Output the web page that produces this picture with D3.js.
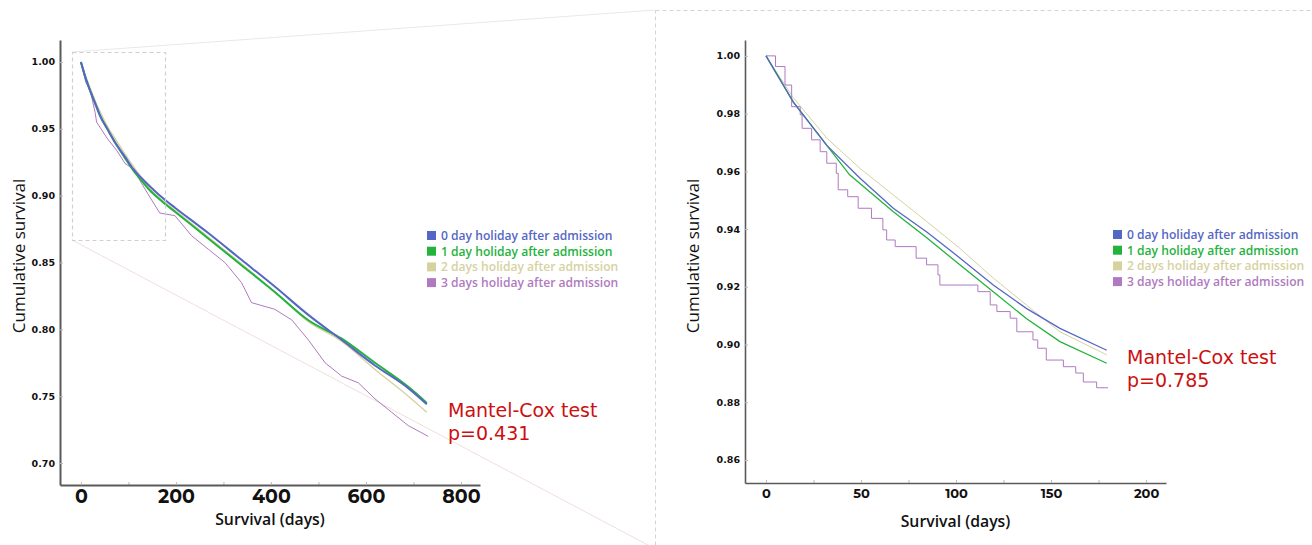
<!DOCTYPE html>
<html>
<head>
<meta charset="utf-8">
<script src="https://cdn.jsdelivr.net/npm/d3@7"></script>
<style>
  body { margin: 0; background: #fff; }
  svg { display: block; font-family: "Open Sans", "Noto Sans", sans-serif; }
</style>
</head>
<body>
<svg id="chart" width="1312" height="545"></svg>
<script>
// series names + colours
const groups = ["0 day holiday after admission", "1 day holiday after admission",
  "2 days holiday after admission", "3 days holiday after admission"];
const colors = ["#5567c4", "#23b33c", "#d6d2a0", "#b07ac0"];

// left panel: full 2 year follow-up, [days, survival]
const fullDay0 = [[0,1],[10,0.988],[20,0.978],[30,0.969],[40,0.960],[57,0.949],[75,0.938],[93,0.929],[110,0.920],[128,0.913],[145,0.907],[163,0.901],[180,0.896],[198,0.891],[268,0.872],[338,0.852],[408,0.832],[478,0.811],[549,0.792],[619,0.773],[689,0.756],[728,0.744]];
const fullDay1 = [[0,1],[10,0.988],[20,0.978],[30,0.969],[40,0.960],[57,0.949],[75,0.938],[93,0.928],[110,0.919],[128,0.911],[145,0.904],[163,0.898],[180,0.893],[198,0.888],[268,0.868],[338,0.848],[408,0.828],[478,0.807],[549,0.793],[619,0.775],[689,0.757],[728,0.745]];
const fullDay2 = [[0,1],[10,0.989],[20,0.980],[30,0.971],[40,0.963],[57,0.951],[75,0.941],[93,0.931],[110,0.922],[128,0.913],[145,0.905],[163,0.899],[180,0.894],[198,0.889],[268,0.869],[338,0.849],[408,0.828],[478,0.806],[549,0.791],[619,0.770],[689,0.750],[728,0.738]];
const fullDay3 = [[0,1],[10,0.985],[20,0.978],[30,0.962],[33,0.955],[57,0.942],[75,0.934],[93,0.924],[110,0.920],[128,0.909],[145,0.899],[166,0.887],[198,0.885],[233,0.870],[268,0.860],[303,0.850],[338,0.835],[359,0.820],[408,0.815],[444,0.807],[479,0.792],[514,0.775],[549,0.765],[584,0.760],[619,0.748],[654,0.738],[689,0.728],[731,0.720]];

// right panel: first 180 days
const zoomDay0 = [[0,1],[14.4,0.984],[32,0.969],[49.5,0.9576],[67,0.9472],[84.6,0.939],[102,0.930],[119.6,0.9206],[137,0.9125],[154.7,0.9056],[179.3,0.898]];
const zoomDay1 = [[0,1],[14.4,0.984],[32,0.969],[44,0.9588],[67,0.946],[84.6,0.937],[102,0.9276],[119.6,0.9183],[137,0.909],[154.7,0.901],[179.3,0.8935]];
const zoomDay2 = [[0,1],[14.4,0.9855],[32,0.9715],[49.5,0.961],[67,0.9518],[84.6,0.9426],[102,0.9333],[119.6,0.923],[137,0.9137],[154.7,0.9044],[179.3,0.8964]];
const zoomDay3 = [[0,1],[5,0.9963],[10,0.9899],[13.5,0.9824],[18,0.9796],[19,0.9749],[24,0.9709],[28.5,0.9668],[32,0.9628],[37,0.9593],[38,0.9536],[43,0.9512],[48.5,0.9472],[55.5,0.9437],[61.5,0.9397],[63.5,0.9362],[68,0.9339],[79,0.9299],[84.5,0.9276],[90.5,0.9241],[91.5,0.9206],[111.5,0.9183],[118,0.9137],[121.5,0.9114],[128.5,0.9091],[132,0.9044],[140.5,0.9016],[143,0.8987],[147.5,0.8946],[156.5,0.8923],[163,0.8901],[167,0.887],[174,0.885],[180,0.885]];

const fullTicksX = [0, 200, 400, 600, 800];
const fullTicksY = [0.70, 0.75, 0.80, 0.85, 0.90, 0.95, 1.00];
const zoomTicksX = [0, 50, 100, 150, 200];
const zoomTicksY = [0.86, 0.88, 0.90, 0.92, 0.94, 0.96, 0.98, 1.00];

const svg = d3.select("#chart");

// ---- zoom guides (drawn first, behind everything)
svg.append("rect")
  .attr("x", 655.5).attr("y", 10.5).attr("width", 700).attr("height", 600)
  .attr("fill", "none").attr("stroke", "#d4d4d4").attr("stroke-dasharray", "4,3");

svg.append("line").attr("x1", 72).attr("y1", 52).attr("x2", 655).attr("y2", 10)
  .attr("stroke", "#e8e8e8").attr("stroke-width", 1);
svg.append("line").attr("x1", 72).attr("y1", 240).attr("x2", 648).attr("y2", 545)
  .attr("stroke", "#f1dede").attr("stroke-width", 1);

function panel(opt) {
  const g = svg.append("g");
  const x = d3.scaleLinear().domain(opt.xDomain).range(opt.xRange);
  const y = d3.scaleLinear().domain(opt.yDomain).range(opt.yRange);

  const line = d3.line().x(d => x(d[0])).y(d => y(d[1]));

  // minor x ticks
  g.append("g")
    .attr("transform", `translate(0,${opt.yRange[0]})`)
    .call(d3.axisBottom(x).tickValues(opt.minorX).tickSize(-3).tickFormat(""))
    .call(a => a.select(".domain").remove())
    .call(a => a.selectAll("line").attr("stroke", "#bbb"));

  // x axis
  g.append("g")
    .attr("transform", `translate(0,${opt.yRange[0]})`)
    .call(d3.axisBottom(x).tickValues(opt.ticksX).tickSizeInner(-3).tickSizeOuter(0).tickPadding(opt.xPad))
    .call(a => a.select(".domain").attr("stroke", "#5a5a5a").attr("stroke-width", opt.axisW))
    .call(a => a.selectAll(".tick line").attr("stroke", "#bbb"))
    .call(a => a.selectAll("text").attr("font-size", opt.xFont).attr("font-weight", 700)
      .attr("fill", "#111").attr("font-family", "Montserrat, 'DejaVu Sans', sans-serif"));

  // y axis
  g.append("g")
    .attr("transform", `translate(${opt.xRange[0]},0)`)
    .call(d3.axisLeft(y).tickValues(opt.ticksY).tickFormat(d3.format(".2f")).tickSizeInner(-3).tickSizeOuter(0).tickPadding(5))
    .call(a => a.select(".domain").attr("stroke", "#5a5a5a").attr("stroke-width", opt.axisW))
    .call(a => a.selectAll(".tick line").attr("stroke", "#bbb"))
    .call(a => a.selectAll("text").attr("font-size", 9.5).attr("font-weight", 700)
      .attr("fill", "#111").attr("font-family", "'DejaVu Sans', sans-serif"));

  // axis titles
  g.append("text")
    .attr("x", (opt.xRange[0] + opt.xRange[1]) / 2).attr("y", opt.xTitleY)
    .attr("text-anchor", "middle").attr("font-size", 15.8).attr("font-weight", 600)
    .attr("fill", "#111").text("Survival (days)");
  g.append("text")
    .attr("transform", `translate(${opt.yTitleX},256) rotate(-90)`)
    .attr("text-anchor", "middle").attr("font-size", 17).attr("font-weight", 500)
    .attr("fill", "#111").text("Cumulative survival");

  // curves: beige, purple, green, blue (blue on top)
  const order = [2, 3, 1, 0];
  order.forEach(i => {
    let c = opt.smooth ? d3.curveMonotoneX : d3.curveLinear;
    if (i === 3) c = opt.stepPurple ? d3.curveStepAfter : d3.curveLinear;
    g.append("path")
      .datum(opt.series[i])
      .attr("fill", "none")
      .attr("stroke", colors[i])
      .attr("stroke-width", opt.widths[i])
      .attr("d", line.curve(c));
  });

  // legend
  const lg = g.append("g").attr("transform", `translate(${opt.legend[0]},${opt.legend[1]})`);
  groups.forEach((name, i) => {
    lg.append("rect").attr("x", 0).attr("y", i * 15.7 - 5).attr("width", 9).attr("height", 9)
      .attr("fill", colors[i]);
    lg.append("text").attr("x", 14).attr("y", i * 15.7 + 4)
      .attr("font-size", 12.1).attr("font-weight", 600).attr("fill", colors[i]).text(name);
  });

  // test label (DejaVu: tighter line box so the two lines sit close like the original)
  g.append("text").attr("x", opt.test[0]).attr("y", opt.test[1])
    .attr("font-family", "'DejaVu Sans', sans-serif")
    .attr("font-size", 19).attr("fill", "#cc1010").text("Mantel-Cox test");
  g.append("text").attr("x", opt.test[0]).attr("y", opt.test[1] + 23)
    .attr("font-family", "'DejaVu Sans', sans-serif")
    .attr("font-size", 19).attr("fill", "#cc1010").text(opt.p);
}

panel({
  xDomain: [-44, 840], xRange: [60, 480],
  yDomain: [0.6836, 1.0164], yRange: [485, 40],
  ticksX: fullTicksX, minorX: [100, 300, 500, 700], ticksY: fullTicksY,
  series: [fullDay0, fullDay1, fullDay2, fullDay3],
  widths: [2, 2, 1.4, 1], stepPurple: false, smooth: true,
  axisW: 2, xFont: 19, xPad: 5, xTitleY: 525, yTitleX: 25,
  legend: [427, 236], test: [448, 417], p: "p=0.431"
});

panel({
  xDomain: [-11.05, 210.5], xRange: [745, 1166],
  yDomain: [0.852, 1.0055], yRange: [483, 40],
  ticksX: zoomTicksX, minorX: [25, 75, 125, 175], ticksY: zoomTicksY,
  series: [zoomDay0, zoomDay1, zoomDay2, zoomDay3],
  widths: [1.3, 1.3, 1, 1], stepPurple: true, smooth: false,
  axisW: 1.6, xFont: 13, xPad: 6, xTitleY: 527, yTitleX: 699,
  legend: [1113, 235], test: [1127, 364], p: "p=0.785"
});

// zoom window on the left panel
svg.append("rect")
  .attr("x", 72.5).attr("y", 52.5).attr("width", 93).attr("height", 188)
  .attr("fill", "none").attr("stroke", "#d0d0d0").attr("stroke-width", 1.2).attr("stroke-dasharray", "4,3");
</script>
</body>
</html>
